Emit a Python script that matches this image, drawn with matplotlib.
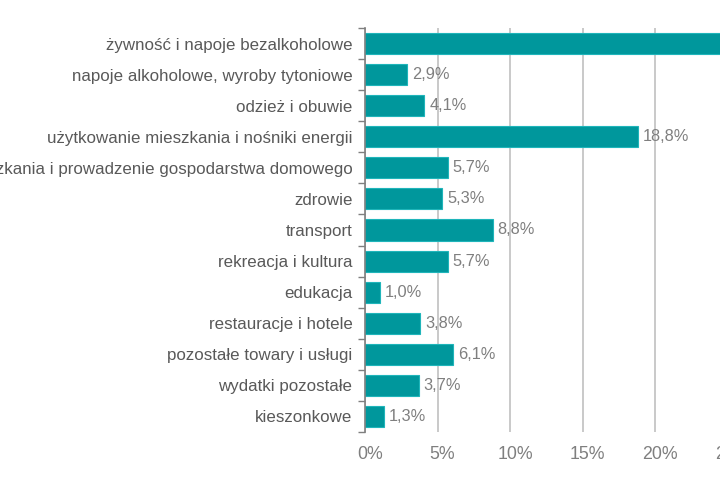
import matplotlib
matplotlib.use("Agg")
import matplotlib.pyplot as plt
import matplotlib.transforms as mtrans
import numpy as np

categories = [
    "żywność i napoje bezalkoholowe",
    "napoje alkoholowe, wyroby tytoniowe",
    "odzież i obuwie",
    "użytkowanie mieszkania i nośniki energii",
    "wyposażenie mieszkania i prowadzenie gospodarstwa domowego",
    "zdrowie",
    "transport",
    "rekreacja i kultura",
    "edukacja",
    "restauracje i hotele",
    "pozostałe towary i usługi",
    "wydatki pozostałe",
    "kieszonkowe",
]
values = [25.0, 2.9, 4.1, 18.8, 5.7, 5.3, 8.8, 5.7, 1.0, 3.8, 6.1, 3.7, 1.3]
xticks = [0, 5, 10, 15, 20, 25, 30]

plt.rcParams['font.family'] = ['Liberation Sans', 'DejaVu Sans']

fig = plt.figure(figsize=(7.2, 5.0), dpi=100)
ax = fig.add_axes([365/720, 1 - 432/500, 435/720, 404/500])

y = np.arange(len(categories))
ax.barh(y, values, height=0.68, color="#00979C", edgecolor="#1FB5BA", linewidth=0.8, zorder=3)

for yi, v in zip(y, values):
    ax.text(v + 0.35, yi, f"{v:.1f}".replace(".", ",") + "%", va="center", ha="left",
            fontsize=11.8, color="#7F7F7F", zorder=4)

ax.set_xlim(0, 30)
ax.set_ylim(len(categories) - 0.5, -0.5)
ax.set_xticks(xticks)
ax.set_xticklabels([f"{t}%" for t in xticks], fontsize=12.8, color="#7F7F7F")
ax.set_yticks(y)
ax.set_yticklabels(categories, fontsize=12.2, color="#595959")
ax.set_yticks(np.arange(len(categories) + 1) - 0.5, minor=True)
ax.tick_params(axis="y", which="major", length=0, pad=9)
ax.tick_params(axis="y", which="minor", length=5, color="#7F7F7F", width=1)
ax.tick_params(axis="x", length=0, pad=10)

offset = mtrans.ScaledTranslation(5/100, 0, fig.dpi_scale_trans)
for lbl in ax.get_xticklabels():
    lbl.set_transform(lbl.get_transform() + offset)

ax.grid(axis="x", color="#C0C0C0", linewidth=1.2, zorder=0)
for s in ["top", "right", "bottom"]:
    ax.spines[s].set_visible(False)
ax.spines["left"].set_color("#7F7F7F")
ax.spines["left"].set_linewidth(1.2)
ax.spines["left"].set_zorder(5)

fig.savefig("out.png", dpi=100)
